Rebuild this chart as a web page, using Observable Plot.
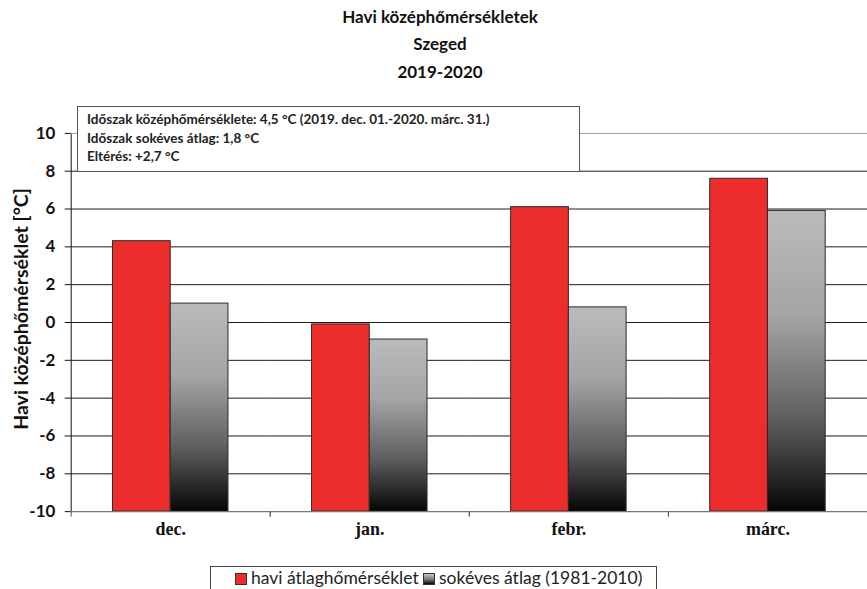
<!DOCTYPE html>
<html>
<head>
<meta charset="utf-8">
<script src="https://cdn.jsdelivr.net/npm/d3@7"></script>
<script src="https://cdn.jsdelivr.net/npm/@observablehq/plot@0.6"></script>
<style>
  html, body { margin: 0; padding: 0; background: #fff; }
  #wrap { position: relative; width: 867px; height: 589px; overflow: hidden; font-family: Lato, "Open Sans", sans-serif; }
  #chart { position: absolute; left: 0; top: 0; }
  .title { position: absolute; left: 290px; width: 300px; text-align: center; font-weight: bold; font-size: 17px; color: #111; line-height: 20px; }
  .ytitle { position: absolute; left: 20px; top: 309px; transform: translate(-50%, -50%) rotate(-90deg); white-space: nowrap; font-weight: bold; font-size: 19.5px; color: #111; }
  #note { position: absolute; left: 77px; top: 106px; width: 503px; height: 66px; border: 1px solid #555; background: #fff; box-sizing: border-box; padding: 3px 0 0 9px; font-weight: bold; font-size: 13.5px; line-height: 18.5px; color: #222; }
  #legend { position: absolute; left: 210px; top: 566px; width: 447px; height: 40px; border: 1px solid #444; box-sizing: border-box; background: #fff; font-size: 17.5px; color: #222; }
  #legend .item { position: absolute; top: 0px; white-space: nowrap; }
  #legend .sw { display: inline-block; width: 12px; height: 12px; border: 1px solid #333; box-sizing: border-box; margin-right: 4px; vertical-align: -1px; }
</style>
</head>
<body>
<svg width="0" height="0" style="position:absolute">
  <defs>
    <linearGradient id="gsGrad" x1="0" y1="0" x2="0" y2="1">
      <stop offset="0" stop-color="#b9bbbc"/>
      <stop offset="0.35" stop-color="#a2a4a5"/>
      <stop offset="0.7" stop-color="#5c5d5e"/>
      <stop offset="1" stop-color="#060606"/>
    </linearGradient>
  </defs>
</svg>
<div id="wrap">
  <div id="chart"></div>
  <div class="title" style="top:7px">Havi középhőmérsékletek</div>
  <div class="title" style="top:34px">Szeged</div>
  <div class="title" style="top:62px">2019-2020</div>
  <div class="ytitle">Havi középhőmérséklet [°C]</div>
  <div id="note">
    <div>Időszak középhőmérséklete: 4,5 °C (2019. dec. 01.-2020. márc. 31.)</div>
    <div>Időszak sokéves átlag: 1,8 °C</div>
    <div>Eltérés: +2,7 °C</div>
  </div>
  <div id="legend">
    <div class="item" style="left:24px"><span class="sw" style="background:#ec2d2c"></span>havi átlaghőmérséklet</div>
    <div class="item" style="left:212px"><span class="sw" style="background:linear-gradient(#c4c6c7,#777 55%,#050505)"></span>sokéves átlag (1981-2010)</div>
  </div>
</div>
<script>
// ---- data ----
const months = ["dec.", "jan.", "febr.", "márc."];
const seriesKeys = ["havi", "sokeves"];
const monthlyMean = [4.3, -0.1, 6.1, 7.6];     // havi átlaghőmérséklet
const normalMean = [1.0, -0.9, 0.8, 5.9];      // sokéves átlag (1981-2010)
const yTicks = [-10, -8, -6, -4, -2, 0, 2, 4, 6, 8, 10];
const yDomain = [-10, 10];

const data = months.flatMap((m, i) => [
  {month: m, series: "havi", value: monthlyMean[i]},
  {month: m, series: "sokeves", value: normalMean[i]}
]);

const chart = Plot.plot({
  width: 871,
  height: 589,
  marginLeft: 71,
  marginRight: 0,
  marginTop: 133.5,
  marginBottom: 75.5,
  style: {fontFamily: "Lato, 'Open Sans', sans-serif", fontSize: "17px", fontWeight: "bold", color: "#111", background: "transparent", overflow: "visible"},
  facet: {data, x: "month"},
  fx: {domain: months, padding: 0, axis: null},
  x: {domain: seriesKeys, paddingInner: 0, paddingOuter: 0.724, axis: null, round: false},
  y: {domain: yDomain, ticks: yTicks, tickFormat: d => String(d), tickSize: 6, tickPadding: 10, label: null, line: true},
  marks: [
    Plot.ruleY(yTicks.filter(v => v > -10 && v < 10), {stroke: "#1a1a1a", strokeWidth: 1}),
    Plot.ruleY([10], {stroke: "#9a9a9a", strokeWidth: 1}),
    Plot.barY(data, {filter: d => d.series === "havi", x: "series", y1: yDomain[0], y2: "value", fill: "#ec2d2c", stroke: "#2a2a2a", strokeWidth: 1}),
    Plot.barY(data, {filter: d => d.series === "sokeves", x: "series", y1: yDomain[0], y2: "value", fill: "url(#gsGrad)", stroke: "#2a2a2a", strokeWidth: 1}),
    Plot.ruleY([yDomain[0]], {stroke: "#777", strokeWidth: 1.2}),
    Plot.frame({insetTop: 380, insetBottom: -5, stroke: "#555", fill: "none", strokeDasharray: "0,200,5,200,5"}),
    Plot.text(data, {filter: d => d.series === "havi", text: "month", frameAnchor: "bottom", dy: 23.5, fontSize: 18, fontWeight: "bold", fill: "#111", fontFamily: "Liberation Serif, serif"})
  ]
});
document.getElementById("chart").appendChild(chart);
</script>
</body>
</html>
